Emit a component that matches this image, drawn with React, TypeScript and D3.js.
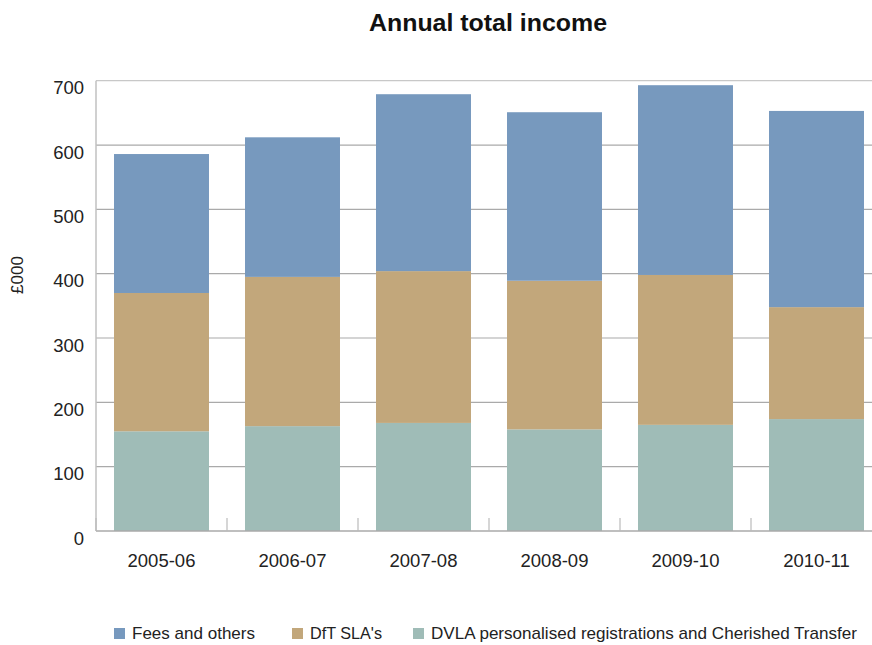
import React from "react";
import * as d3 from "d3";

const categories = ["2005-06", "2006-07", "2007-08", "2008-09", "2009-10", "2010-11"];
const dvla = [155, 163, 168, 158, 165, 174];
const dft = [215, 232, 236, 231, 233, 174];
const fees = [216, 217, 275, 262, 295, 305];
const yTicks = [0, 100, 200, 300, 400, 500, 600, 700];
const seriesNames = ["Fees and others", "DfT SLA's", "DVLA personalised registrations and Cherished Transfer"];
const seriesColors = ["#7799be", "#c2a77b", "#9fbcb7"];

export default function App() {
  const W = 872, H = 645;
  const left = 96, right = 882, top = 80.7, bottom = 531;
  const x = d3.scaleBand<string>().domain(categories).range([left, right]).paddingInner(0.275).paddingOuter(0.1375);
  const y = d3.scaleLinear().domain([0, 700]).range([bottom, top]);
  const rows = categories.map((c, i) => ({ cat: c, dvla: dvla[i], dft: dft[i], fees: fees[i] }));
  const stack = d3.stack<any>().keys(["dvla", "dft", "fees"])(rows);
  const colorByKey: Record<string, string> = { dvla: seriesColors[2], dft: seriesColors[1], fees: seriesColors[0] };
  const step = x.step();
  const font = "'Liberation Sans', Arial, sans-serif";
  const legendX = [114, 292, 413];
  const legendW = [123, 72, 426];
  return (
    <svg width={W} height={H} style={{ position: "absolute", left: 0, top: 0 }}>
      <rect width={W} height={H} fill="#fff" />
      <text x={369} y={31} textLength={238} lengthAdjust="spacingAndGlyphs" fontFamily={font} fontWeight="bold" fontSize={24} fill="#111">Annual total income</text>
      {yTicks.map((t) => (
        <g key={t}>
          {t > 0 && <line x1={left} x2={W} y1={y(t)} y2={y(t)} stroke={t === 700 ? "#c8c8c8" : "#aaaaaa"} strokeWidth={1.2} />}
          <text x={84} y={y(t) + 13.5} textAnchor="end" fontFamily={font} fontSize={18.5} fill="#222">{t}</text>
        </g>
      ))}
      {stack.map((s) => (
        <g key={s.key} fill={colorByKey[s.key]}>
          {s.map((d, i) => (
            <rect key={i} x={x(categories[i])} width={x.bandwidth()} y={y(d[1])} height={y(d[0]) - y(d[1])} />
          ))}
        </g>
      ))}
      <line x1={left} x2={left} y1={top} y2={bottom} stroke="#c0c0c0" strokeWidth={1.5} />
      <line x1={left} x2={W} y1={bottom} y2={bottom} stroke="#aaaaaa" strokeWidth={1.5} />
      {categories.map((c, i) => (
        <line key={"t" + i} x1={left + step * i} x2={left + step * i} y1={bottom} y2={bottom - 13} stroke="#bbbbbb" strokeWidth={1.2} />
      ))}
      {categories.map((c) => (
        <text key={c} x={(x(c) as number) + x.bandwidth() / 2} y={567} textAnchor="middle" fontFamily={font} fontSize={18.5} fill="#222">{c}</text>
      ))}
      <text transform="translate(23,275) rotate(-90)" textAnchor="middle" fontFamily={font} fontSize={17} fill="#222">£000</text>
      {seriesNames.map((n, i) => (
        <g key={n}>
          <rect x={legendX[i]} y={628} width={11} height={11} fill={seriesColors[i]} />
          <text x={legendX[i] + 18} y={639} textLength={legendW[i]} lengthAdjust="spacingAndGlyphs" fontFamily={font} fontSize={17} fill="#222">{n}</text>
        </g>
      ))}
    </svg>
  );
}
